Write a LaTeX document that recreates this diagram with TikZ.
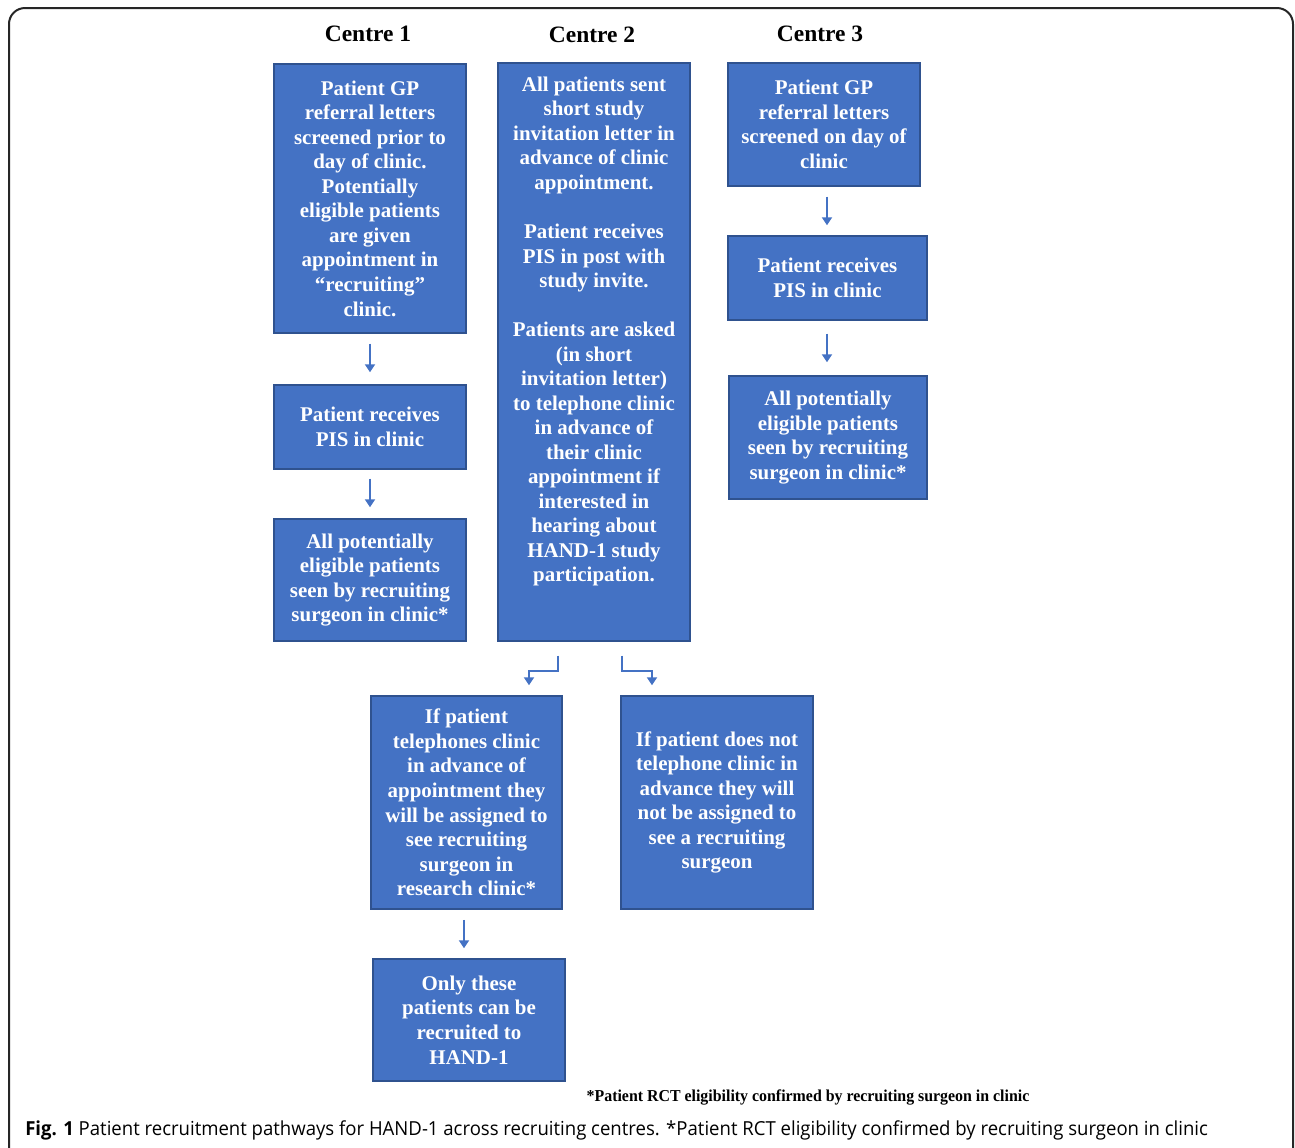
\documentclass[tikz,border=0pt]{standalone}
\usepackage{fontspec}
\setmainfont{Liberation Serif}
\newfontfamily\capfont{Open Sans}
\usetikzlibrary{arrows.meta,calc}
\definecolor{boxblue}{HTML}{4472C4}
\definecolor{boxedge}{HTML}{2F528F}
\begin{document}
\begin{tikzpicture}[x=0.75pt,y=-0.75pt,
  box/.style={draw=boxedge,line width=1.1pt,fill=boxblue,text=white,align=center,
    font=\bfseries\fontsize{15.7}{18.4}\selectfont,inner sep=0pt},
  title/.style={font=\bfseries\fontsize{17.6}{20}\selectfont,inner sep=0pt},
  arr/.style={draw=boxblue,line width=1.6pt,-{Triangle[width=7.5pt,length=6pt]}},
]
\useasboundingbox (0,0) rectangle (1295,1147);
\draw[line width=1.5pt,draw=black!85,rounded corners=12] (9,1160) -- (9,8) -- (1293,8) -- (1293,1160);

\node[title] (t1) at (368,34) {Centre 1};
\node[title] (t2) at (592,35) {Centre 2};
\node[title] (t3) at (820,34) {Centre 3};

% Centre 1
\node[box,minimum width=144pt,minimum height=201.75pt] (a1) at (370,198.5)
 {Patient GP\\referral letters\\screened prior to\\day of clinic.\\Potentially\\eligible patients\\are given\\appointment in\\“recruiting”\\clinic.};
\node[box,minimum width=144pt,minimum height=63pt] (a2) at (370,427)
 {Patient receives\\PIS in clinic};
\node[box,minimum width=144pt,minimum height=91.5pt] (a3) at (370,580)
 {All potentially\\eligible patients\\seen by recruiting\\surgeon in clinic*};

% Centre 2
\node[box,minimum width=144pt,minimum height=433.5pt] (b1) at (594,352) {};
\node[box,draw=none,fill=none,anchor=north] (b1t) at (594,76)
 {All patients sent\\short study\\invitation letter in\\advance of clinic\\appointment.\\[18.4pt]
  Patient receives\\PIS in post with\\study invite.\\[18.4pt]
  Patients are asked\\(in short\\invitation letter)\\to telephone clinic\\in advance of\\their clinic\\appointment if\\interested in\\hearing about\\HAND-1 study\\participation.};

% Centre 3
\node[box,minimum width=144pt,minimum height=92.25pt] (c1) at (824,124.5)
 {Patient GP\\referral letters\\screened on day of\\clinic};
\node[box,minimum width=149.25pt,minimum height=63pt] (c2) at (827.5,278)
 {Patient receives\\PIS in clinic};
\node[box,minimum width=148.5pt,minimum height=92.25pt] (c3) at (828,437.5)
 {All potentially\\eligible patients\\seen by recruiting\\surgeon in clinic*};

% Branches
\node[box,minimum width=143.25pt,minimum height=159.75pt] (d1) at (466.5,802.5)
 {If patient\\telephones clinic\\in advance of\\appointment they\\will be assigned to\\see recruiting\\surgeon in\\research clinic*};
\node[box,minimum width=144pt,minimum height=159.75pt] (d2) at (717,802.5)
 {If patient does not\\telephone clinic in\\advance they will\\not be assigned to\\see a recruiting\\surgeon};
\node[box,minimum width=144pt,minimum height=91.5pt] (e1) at (469,1020)
 {Only these\\patients can be\\recruited to\\HAND-1};

% Arrows
\draw[arr] ($(a1.south)+(0,10)$) -- ($(a2.north)+(0,-12)$);
\draw[arr] ($(a2.south)+(0,9)$) -- ($(a3.north)+(0,-11)$);
\draw[arr] ($(c1.south)+(3,10)$) -- ($(c2.north)+(-0.5,-10)$);
\draw[arr] ($(c2.south)+(-0.5,13)$) -- ($(c3.north)+(-1,-13)$);
\draw[arr] ($(b1.south)+(-36,14)$) -- ++(0,15) -| ($(d1.north)+(62.5,-10)$);
\draw[arr] ($(b1.south)+(28,14)$) -- ++(0,15) -| ($(d2.north)+(-65,-10)$);
\draw[arr] ($(d1.south)+(-2.5,10)$) -- ($(e1.north)+(-5,-10)$);

% Footnote and caption
\node[inner sep=0pt] (fn) at (808,1097)
 {\resizebox{332pt}{\height}{\bfseries\fontsize{12.5}{14}\selectfont *Patient RCT eligibility confirmed by recruiting surgeon in clinic}};
\node[inner sep=0pt,anchor=west] (cap) at (25,1130)
 {\resizebox{887pt}{\height}{\capfont\fontsize{14.5}{17}\selectfont\textbf{Fig. 1} Patient recruitment pathways for HAND-1 across recruiting centres. *Patient RCT eligibility confirmed by recruiting surgeon in clinic}};
\end{tikzpicture}
\end{document}
